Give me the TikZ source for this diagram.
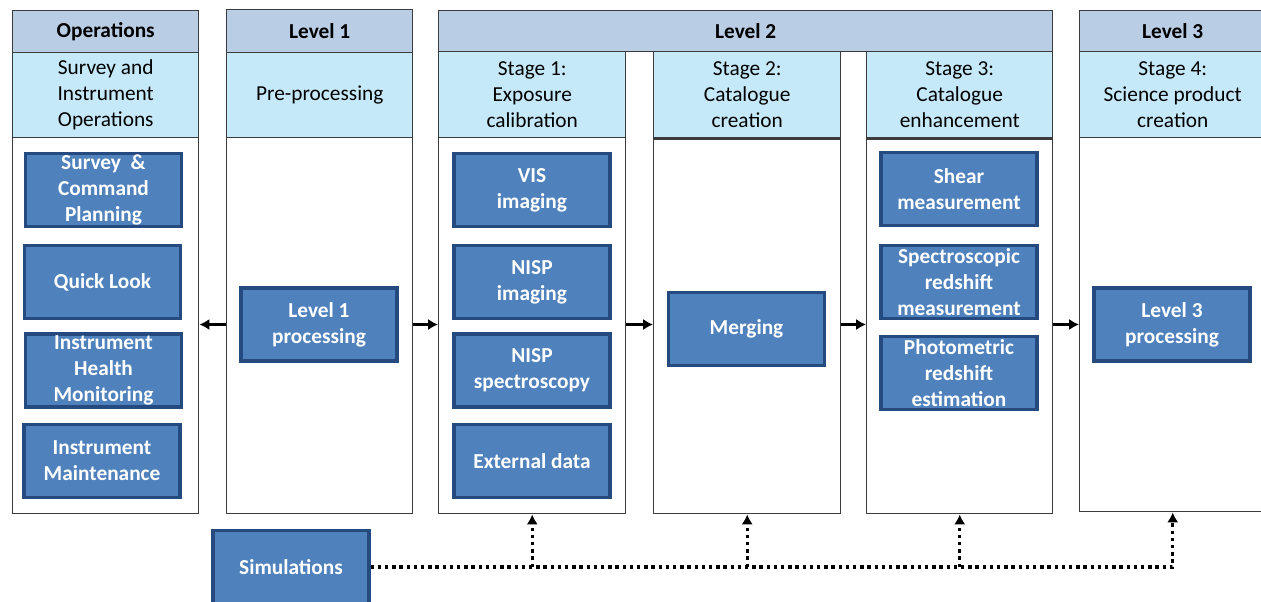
\documentclass[tikz,border=0pt]{standalone}
\usepackage{fontspec}
\setmainfont{Carlito}
\usetikzlibrary{arrows,arrows.meta}
\definecolor{hdrblue}{RGB}{185,205,229}
\definecolor{subblue}{RGB}{198,233,250}
\definecolor{boxblue}{RGB}{79,129,189}
\definecolor{boxedge}{RGB}{37,74,128}
\definecolor{frame}{RGB}{60,60,60}
\newcommand\txt{\fontsize{16}{19.5}\selectfont}
\tikzset{
  sz/.style 2 args={minimum width=#1*.75pt, minimum height=#2*.75pt},
  col/.style={draw=frame, line width=1.1pt, fill=white, anchor=north west, inner sep=0pt},
  hd/.style={col, fill=hdrblue, font=\txt\bfseries},
  sb/.style={col, fill=subblue, font=\txt, align=center},
  bx/.style={draw=boxedge, line width=2.3pt, fill=boxblue, text=white, font=\txt\bfseries, align=center, inner sep=0pt, sz={156}{73}},
  arr/.style={line width=2.2pt, >={Latex[length=7.5pt,width=8.5pt]}},
  dots/.style={line width=2.6pt, dash pattern=on 2.6pt off 2.8pt, >={Latex[length=7.5pt,width=8.5pt]}}
}

\begin{document}
\begin{tikzpicture}[x=.75pt, y=-.75pt]
  \useasboundingbox (0,0) rectangle (1261,601);
  \clip (0,0) rectangle (1261,601);

  \node[col, sz={186}{503}] (ops) at (12,10) {};
  \node[col, sz={186}{504}] (l1) at (226,9) {};
  \node[col, sz={187}{462}] (st1) at (438,51) {};
  \node[col, sz={187}{462}] (st2) at (653,51) {};
  \node[col, sz={186}{462}] (st3) at (866,51) {};
  \node[col, sz={186}{501}] (l3) at (1079,10) {};

  \node[hd, sz={186}{42}] (opshd) at (12,10) {Operations};
  \node[hd, sz={186}{43}] (l1hd) at (226,9) {Level 1};
  \node[hd, sz={614}{41}] (l2hd) at (438,10) {Level 2};
  \node[hd, sz={186}{41}] (l3hd) at (1079,10) {Level 3};

  \node[sb, sz={186}{85}] (opssb) at (12,52) {Survey and\\Instrument\\Operations};
  \node[sb, sz={186}{85}] (l1sb) at (226,52) {Pre-processing};
  \node[sb, sz={187}{86}] (st1sb) at (438,51) {Stage 1:\\Exposure\\calibration};
  \node[sb, sz={187}{86}] (st2sb) at (653,51) {Stage 2:\\Catalogue\\creation};
  \node[sb, sz={186}{86}] (st3sb) at (866,51) {Stage 3:\\Catalogue\\enhancement};
  \node[sb, sz={186}{86}] (l3sb) at (1079,51) {Stage 4:\\Science product\\creation};
  \foreach \s in {st2sb,st3sb}
    \draw[frame, line width=2.2pt] (\s.south west) -- (\s.south east);

  \node[bx] (plan) at (103.5,190) {Survey\ \ \&\\Command\\Planning};
  \node[bx] (quick) at (102.5,282) {Quick Look};
  \node[bx] (health) at (103.5,370.5) {Instrument\\Health\\Monitoring};
  \node[bx] (maint) at (102,461) {Instrument\\Maintenance};
  \node[bx] (l1p) at (319,324.5) {Level 1\\processing};
  \node[bx] (vis) at (532,190) {VIS\\imaging};
  \node[bx] (nimg) at (532,282) {NISP\\imaging};
  \node[bx] (nspec) at (532,370.5) {NISP\\spectroscopy};
  \node[bx] (ext) at (532,461) {External data};
  \node[bx] (merge) at (746.5,329) {Merging};
  \node[bx] (shear) at (959,189) {Shear\\measurement};
  \node[bx] (specz) at (959,282) {Spectroscopic\\redshift\\measurement};
  \node[bx] (photz) at (959,373) {Photometric\\redshift\\estimation};
  \node[bx] (l3p) at (1172,324.5) {Level 3\\processing};
  \node[bx] (sim) at (291,567) {Simulations};

  \path[->, arr]
  (l1.west |- l1p) edge (ops.east |- l1p)
  (l1.east |- l1p) edge (st1.west |- l1p)
  (st1.east |- l1p) edge (st2.west |- l1p)
  (st2.east |- l1p) edge (st3.west |- l1p)
  (st3.east |- l1p) edge (l3.west |- l1p)
  ;
  \draw[->, dots] (sim.east) -| (l3.south);
  \foreach \s in {st1,st2,st3}
    \draw[->, dots] (sim.east -| \s.south) -- (\s.south);
\end{tikzpicture}
\end{document}
